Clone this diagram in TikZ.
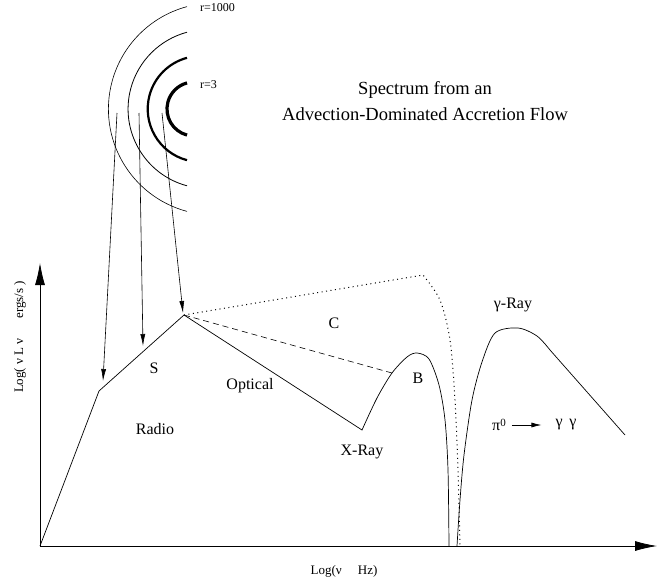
\documentclass[tikz,border=0pt]{standalone}
\usepackage{fontspec}
\setmainfont{Liberation Serif}
\usetikzlibrary{arrows.meta}

\begin{document}
\begin{tikzpicture}[x=1pt, y=-1pt,
  axis/.style={line width=0.8pt, -{Latex[length=22pt,width=10pt]}},
  curve/.style={line width=0.7pt},
  ray/.style={line width=0.6pt, -{Latex[length=12pt,width=5pt]}},
  lab/.style={font=\fontsize{16}{19}\selectfont, inner sep=0pt},
  axlab/.style={font=\fontsize{13}{16}\selectfont, inner sep=0pt},
  rlab/.style={font=\fontsize{12}{14}\selectfont, inner sep=0pt, anchor=west},
  title/.style={font=\fontsize{18.5}{26}\selectfont, align=center, inner sep=0pt},
]
\useasboundingbox (0,0) rectangle (658,584);

% --- Shells ---
\draw[line width=0.6pt] (187,{109+0.966*106}) arc[start angle=105, end angle=255, radius=106];
\draw[line width=0.8pt] (187,{109+0.966*79.5}) arc[start angle=105, end angle=255, radius=79.5];
\draw[line width=2.2pt] (187,{109+0.966*53}) arc[start angle=105, end angle=255, radius=53];
\draw[line width=3.2pt] (187,{109+0.966*27}) arc[start angle=105, end angle=255, radius=27];
\node[rlab] (rout) at (200,8)  {r=1000};
\node[rlab] (rin)  at (200,85) {r=3};

% --- Title ---
\node[title] (title) at (425,101) {Spectrum from an\\Advection-Dominated Accretion Flow};

% --- Axes ---
\coordinate (origin) at (40,546);
\coordinate (ytop)   at (40,263);
\coordinate (xend)   at (657,546);
\draw[axis] (origin) -- (ytop);
\draw[axis] (origin) -- (xend);
\node[axlab, rotate=90] (ylab) at (20,337) {Log( ν L ν \quad\ ergs/s )};
\node[axlab] (xlab) at (344,571) {Log(ν \quad Hz)};

% --- Spectrum ---
\coordinate (knee)  at (99,391);
\coordinate (peak)  at (184,315);
\coordinate (xray)  at (362,430);
\coordinate (bcut)  at (392,373);
\coordinate (ctop)  at (423,275);
\draw[curve] (origin) -- (knee) -- (peak) -- (xray)
  -- plot[smooth] coordinates {(xray) (377,398) (bcut) (407,357) (417,353) (429,359) (439,385) (445,420) (448,470) (449,546)};
\draw[curve] plot[smooth] coordinates {(457,546) (460,500) (464,455) (472,400) (482,362) (495,333) (518,328) (537,336) (550,350)}
  -- (625,435);
\draw[line width=0.6pt, dash pattern=on 6pt off 4pt] (peak) -- (bcut);
\draw[line width=1pt, dash pattern=on 1pt off 3.5pt]
  (peak) -- (ctop) -- plot[smooth] coordinates {(ctop) (440,300) (450,340) (455,400) (458,470) (460,546)};

% --- Rays from the shells ---
\coordinate (r1) at (117,113);
\coordinate (r2) at (139,113);
\coordinate (r3) at (162,113);
\coordinate (t1) at (103,381);
\coordinate (t2) at (143,346);
\coordinate (t3) at (183,313);
\draw[ray] (r1) -- (t1);
\draw[ray] (r2) -- (t2);
\draw[ray] (r3) -- (t3);

% --- Labels ---
\node[lab] (radio) at (155,429) {Radio};
\node[lab] (sync)  at (154,368) {S};
\node[lab] (opt)   at (250,386) {Optical};
\node[lab] (comp)  at (334,323) {C};
\node[lab] (brem)  at (418,378) {B};
\node[lab] (xlabx) at (362,452) {X-Ray};
\node[lab] (glab)  at (513,305) {γ-Ray};
\node[lab] (pi)    at (499,425) {π\raisebox{0.45ex}{\fontsize{11}{12}\selectfont 0}};
\node[lab] (gg)    at (566,425) {γ\, γ};
\draw[line width=0.7pt, -{Latex[length=10pt,width=5pt]}, shorten <=6pt, shorten >=14pt] (pi) -- (gg);
\end{tikzpicture}
\end{document}
